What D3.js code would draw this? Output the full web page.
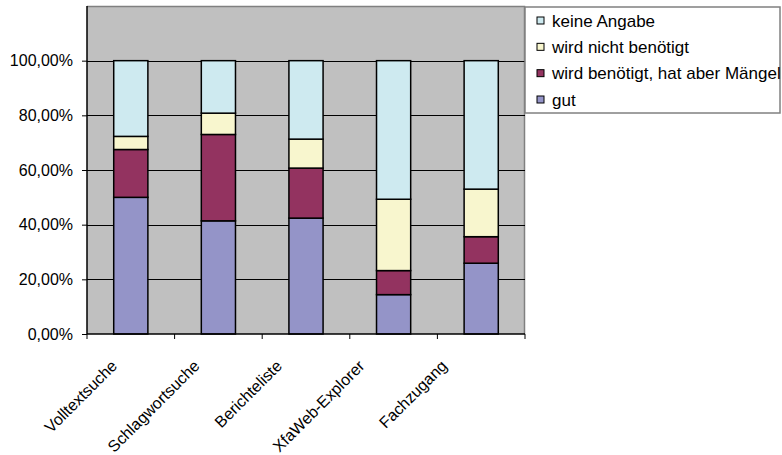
<!DOCTYPE html>
<html><head><meta charset="utf-8">
<script src="https://cdn.jsdelivr.net/npm/d3@7"></script>
<style>body{margin:0;background:#fff}svg{display:block}text{font-family:"Liberation Sans",Arial,sans-serif;fill:#000}</style>
</head><body><svg id="c" width="782" height="455"></svg>
<script>
const categories = ["Volltextsuche","Schlagwortsuche","Berichteliste","XfaWeb-Explorer","Fachzugang"];
const seriesNames = ["gut","wird benötigt, hat aber Mängel","wird nicht benötigt","keine Angabe"];
const gut = [0.500,0.414,0.424,0.144,0.259];
const maengel = [0.175,0.316,0.183,0.088,0.097];
const nichtBenoetigt = [0.048,0.078,0.106,0.261,0.174];
const keineAngabe = [0.277,0.192,0.287,0.507,0.470];
const yTicks = [0,0.2,0.4,0.6,0.8,1.0];
const colors = ["#9494C8","#933360","#F8F6CE","#CEEAF0"];

const svg = d3.select("#c");
const L=87, R=525, T=6, B=334;
const x = d3.scaleBand().domain(categories).range([L,R]).paddingInner(0.61).paddingOuter(0.305);
const y = d3.scaleLinear().domain([0,1.2]).range([B,T]);

svg.append("rect").attr("x",L).attr("y",T).attr("width",R-L).attr("height",B-T).attr("fill","#C0C0C0");
svg.append("path").attr("d",`M${L},${T+0.5}H${R-0.5}V${B}`).attr("fill","none").attr("stroke","#808080").attr("stroke-width",1.5);

// gridlines
svg.append("g").selectAll("line").data(yTicks.filter(d=>d>0)).join("line")
  .attr("x1",L).attr("x2",R).attr("y1",d=>Math.round(y(d))+0.5).attr("y2",d=>Math.round(y(d))+0.5)
  .attr("stroke","#000").attr("stroke-width",1);

const data = categories.map((c,i)=>({cat:c, s0:gut[i], s1:maengel[i], s2:nichtBenoetigt[i], s3:keineAngabe[i]}));
const stack = d3.stack().keys(["s0","s1","s2","s3"])(data);
svg.append("g").selectAll("g").data(stack).join("g").attr("fill",(d,i)=>colors[i])
  .selectAll("rect").data(d=>d).join("rect")
  .attr("x",d=>x(d.data.cat)).attr("width",x.bandwidth())
  .attr("y",d=>y(d[1])).attr("height",d=>y(d[0])-y(d[1]))
  .attr("stroke","#000").attr("stroke-width",1.5);

// y axis
const ya = svg.append("g").attr("transform",`translate(${L},0)`)
  .call(d3.axisLeft(y).tickValues(yTicks).tickSize(5).tickPadding(9)
    .tickFormat(d=>d3.format(".2f")(d*100).replace(".",",")+"%"));
ya.select(".domain").attr("d",`M0,${T}V${B}`).attr("stroke","#000").attr("stroke-width",1.5);
ya.selectAll("text").style("font-size","16px").attr("font-family",null);

// x axis
const xa = svg.append("g").attr("transform",`translate(0,${B})`);
xa.append("line").attr("x1",L).attr("x2",R).attr("stroke","#000").attr("stroke-width",1.5);
const bounds = categories.map((c,i)=>x(c)-x.step()*x.paddingOuter()).concat([R]);
xa.selectAll("line.t").data(bounds).join("line").attr("class","t")
  .attr("x1",d=>d).attr("x2",d=>d).attr("y1",0).attr("y2",5).attr("stroke","#000");
const lx = d3.scalePoint().domain(categories).range([L+31,R-77]);
xa.selectAll("text").data(categories).join("text")
  .attr("transform",d=>`translate(${lx(d)},${33}) rotate(-45)`)
  .attr("text-anchor","end").style("font-size","16px").text(d=>d);

// legend
const lg = svg.append("g");
lg.append("rect").attr("x",525).attr("y",7).attr("width",255).attr("height",106)
  .attr("fill","#fff").attr("stroke","#808080").attr("stroke-width",1.5);
const order = [3,2,1,0];
const ly = d3.scalePoint().domain(order).range([20.5,99.5]);
order.forEach(k=>{
  lg.append("rect").attr("x",537).attr("y",ly(k)-3.5).attr("width",7).attr("height",7)
    .attr("fill",colors[k]).attr("stroke","#000").attr("stroke-width",1);
  lg.append("text").attr("x",552).attr("y",ly(k)+6).style("font-size","17px").text(seriesNames[k]);
});
</script></body></html>
